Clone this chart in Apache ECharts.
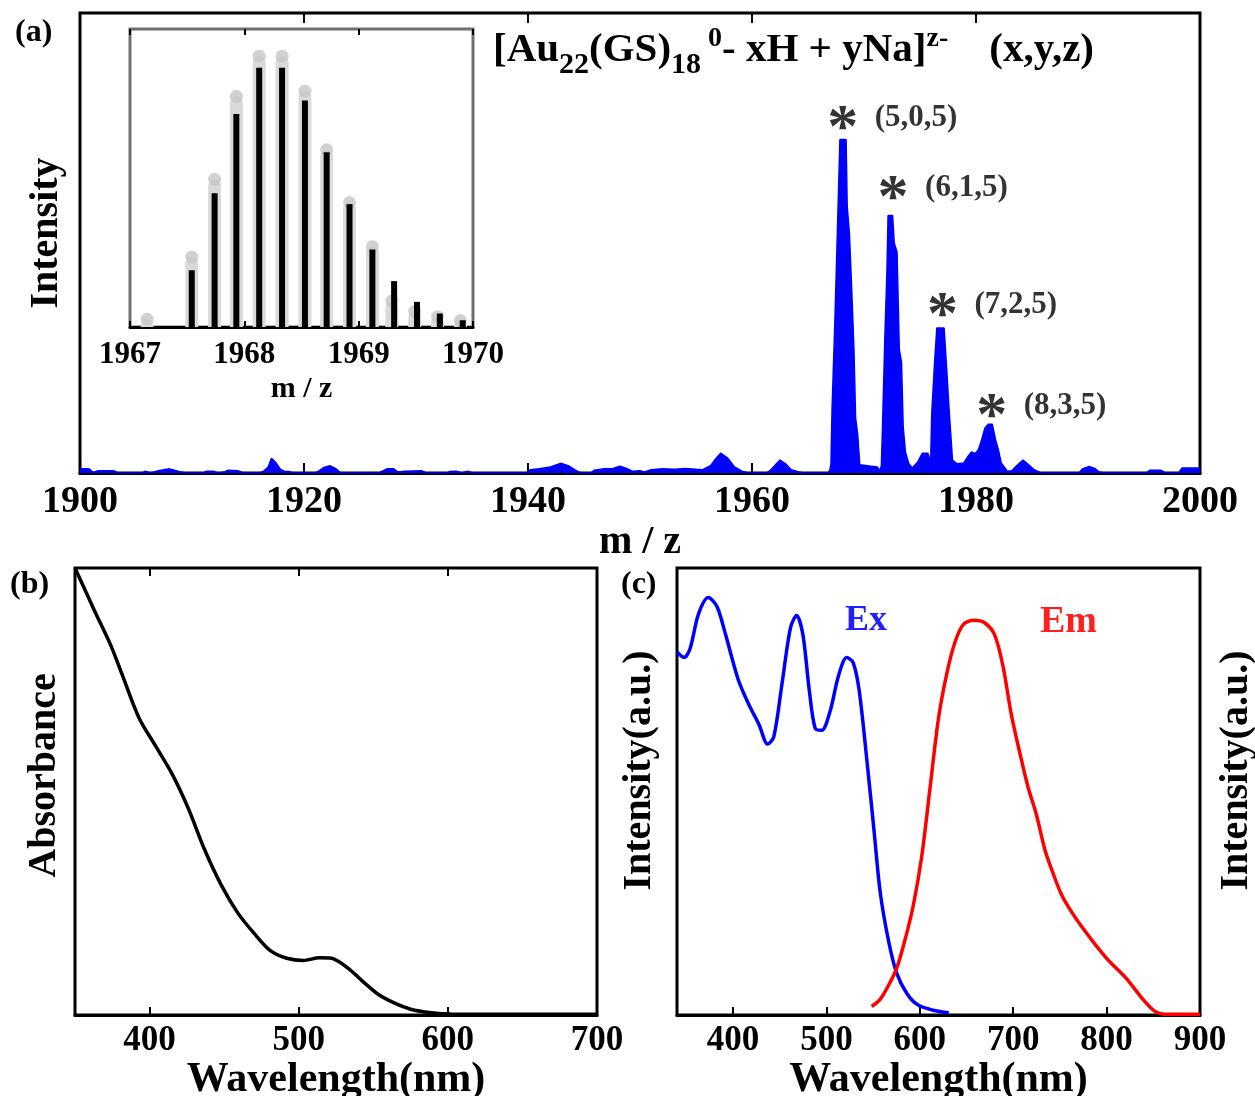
<!DOCTYPE html>
<html>
<head>
<meta charset="utf-8">
<title>Au22(GS)18 spectra</title>
<script src="https://cdn.jsdelivr.net/npm/echarts@6/dist/echarts.min.js"></script>
<style>
html, body { margin: 0; padding: 0; background: #fff; }
#chart { width: 1255px; height: 1096px; }
</style>
</head>
<body>
<div id="chart"></div>
<script>
var FONT = '"Liberation Serif", "Times New Roman", serif';

// (a) mass spectrum
var msMz = [1900.0, 1900.8, 1901.2, 1901.6, 1903.0, 1903.4, 1905.6, 1905.8, 1906.3, 1907.0, 1908.0, 1908.9, 1909.5,
    1911.0, 1911.3, 1911.9, 1912.3, 1912.9, 1913.2, 1914.1, 1914.6, 1916.1, 1916.4, 1916.8, 1917.1, 1917.5, 1917.9,
    1918.3, 1918.7, 1919.1, 1921.0, 1921.3, 1921.8, 1922.3, 1922.8, 1923.3, 1926.7, 1927.0, 1927.4, 1928.0, 1928.4,
    1929.0, 1930.5, 1930.9, 1932.8, 1933.0, 1933.6, 1934.1, 1934.6, 1935.1, 1939.9, 1940.2, 1941.0, 1942.0, 1942.9,
    1943.6, 1944.2, 1944.7, 1945.6, 1945.9, 1946.8, 1947.6, 1948.2, 1948.8, 1949.3, 1950.0, 1950.4, 1951.0, 1952.0,
    1953.1, 1954.0, 1955.0, 1955.6, 1956.3, 1956.8, 1957.2, 1957.8, 1958.4, 1959.1, 1959.7, 1961.3, 1961.6, 1962.0,
    1962.5, 1963.0, 1963.5, 1964.2, 1964.6, 1966.8, 1966.95, 1967.05, 1967.15, 1967.4, 1967.62, 1967.85, 1968.4,
    1968.5, 1968.7, 1968.9, 1969.1, 1969.25, 1969.45, 1969.62, 1970.5, 1971.2, 1971.4, 1971.55, 1971.65, 1971.85,
    1972.05, 1972.15, 1972.55, 1972.7, 1972.95, 1973.15, 1973.35, 1973.5, 1973.7, 1974.0, 1974.3, 1974.8, 1975.2,
    1975.7, 1975.95, 1976.05, 1976.3, 1976.5, 1977.15, 1977.35, 1977.6, 1977.9, 1978.3, 1978.9, 1979.2, 1979.6,
    1979.9, 1980.2, 1980.5, 1980.8, 1981.1, 1981.45, 1981.75, 1982.0, 1982.25, 1982.8, 1983.2, 1983.6, 1984.2,
    1984.7, 1985.2, 1985.8, 1989.2, 1989.5, 1990.1, 1990.6, 1991.0, 1991.4, 1995.2, 1995.5, 1996.5, 1996.9, 1998.1,
    1998.4, 1999.8, 2000.0];
var msInt = [0.9, 0.9, 0.1, 0.5, 0.5, 0, 0, 0.4, 0, 0.5, 0.9, 0.3, 0,
    0, 0.4, 0.4, 0, 0.2, 0.6, 0.5, 0, 0, 0.4, 1.3, 3.2, 2.2, 0.8,
    0.3, 0.3, 0, 0, 0.4, 1.2, 1.6, 1.0, 0, 0, 0.4, 0.9, 0.9, 0.2,
    0.4, 0.5, 0, 0, 0.3, 0.4, 0, 0.4, 0, 0, 0.7, 0.9, 1.3, 2.1,
    1.6, 0.7, 0, 0, 0.6, 0.9, 1.0, 1.5, 1.0, 0.4, 0.5, 0.2, 0.7, 0.9,
    0.8, 1.0, 0.8, 0.7, 1.6, 3.2, 4.3, 3.3, 1.4, 0.4, 0, 0, 0.5, 1.5,
    2.8, 2.0, 0.7, 0.2, 0, 0, 0.6, 2, 14, 33, 52, 72.5, 72.5,
    58, 52, 40, 27, 12, 8, 1.8, 1.5, 1.3, 0.5, 1.5, 9.8, 28.4,
    44, 56, 56, 50, 48, 27, 24, 10, 4.6, 2, 1.1, 2.4, 4.3,
    4.3, 2.5, 13, 23.9, 31.5, 31.5, 23.9, 13.7, 2.8, 2.0, 2.2, 3.3, 4.6,
    4.2, 5, 7.2, 9.8, 10.6, 10.6, 7.2, 5, 2.2, 0.4, 0.5, 1.5, 2.8,
    1.8, 0.7, 0, 0, 0.9, 1.4, 1.0, 0.2, 0, 0, 0.6, 0.6, 0, 0,
    1.1, 1.1, 1.0];
var peakMz = [1968.1, 1972.6, 1977.0, 1981.4];
var peakMarkY = [77.7, 62.3, 36.9, 15];
var peakTags = ['(5,0,5)', '(6,1,5)', '(7,2,5)', '(8,3,5)'];

// (a) inset: isotope pattern, measured (black) and simulated (grey)
var isoMz = [1967.54, 1967.74, 1967.93, 1968.13, 1968.33, 1968.53, 1968.72, 1968.92, 1969.12, 1969.31, 1969.51, 1969.71, 1969.91];
var isoExp = [21.9, 51.6, 82.2, 100, 100, 87.4, 67.4, 47.4, 29.9, 17.7, 9.7, 5.2, 2.6];
var simMz = [1967.15, 1967.54, 1967.74, 1967.93, 1968.13, 1968.33, 1968.53, 1968.72, 1968.92, 1969.12, 1969.29, 1969.49, 1969.69, 1969.89];
var simInt = [3, 27, 57, 89, 104.5, 104.5, 91, 68.4, 48, 31, 10, 6, 4, 2.5];

// (b) absorption
var absWl = [350, 363, 374, 382, 393, 404, 415, 426, 437, 448, 459, 470, 481, 492, 503, 514, 522, 533, 542, 553, 564, 575, 589, 602, 650, 700];
var absVal = [1.0, 0.905, 0.827, 0.758, 0.664, 0.602, 0.54, 0.462, 0.369, 0.291, 0.229, 0.183, 0.144, 0.127, 0.122, 0.128, 0.127,
    0.105, 0.078, 0.047, 0.027, 0.013, 0.005, 0.002, 0.0015, 0.0015];

// (c) excitation / emission
var exWl = [340, 347.6, 354, 363, 373.5, 383, 392, 405.6, 416.8, 428, 437, 443.6, 452.5, 461.5, 468, 474.8, 481.6, 488,
    495, 504, 512.8, 521.7, 528.5, 535, 544, 550.8, 557.5, 566.4, 575.3, 586.5, 597.7, 615.5, 631];
var exVal = [0.812, 0.8, 0.82, 0.897, 0.934, 0.913, 0.851, 0.75, 0.695, 0.649, 0.606, 0.622, 0.742, 0.866, 0.894, 0.851, 0.727, 0.641,
    0.637, 0.68, 0.758, 0.8, 0.789, 0.727, 0.556, 0.416, 0.276, 0.167, 0.093, 0.047, 0.023, 0.01, 0.005];
var emWl = [548.5, 557.5, 566.4, 575.3, 584, 593, 602, 611, 620, 629, 637.8, 646.7, 658, 669, 680, 689, 698, 707, 716, 725,
    734, 743, 752, 763, 776, 790, 803, 821, 839, 852, 865.5, 900];
var emVal = [0.019, 0.035, 0.066, 0.105, 0.167, 0.245, 0.354, 0.509, 0.664, 0.765, 0.835, 0.874, 0.883, 0.878, 0.851, 0.781, 0.672,
    0.587, 0.509, 0.447, 0.369, 0.315, 0.268, 0.229, 0.19, 0.152, 0.12, 0.082, 0.035, 0.008, 0.0015, 0.0015];

function zip(xs, ys) {
    return xs.map(function (x, i) { return [x, ys[i]]; });
}

function ts(size, extra) {
    var o = { fontFamily: FONT, fontWeight: 'bold', color: '#000', fontSize: size };
    for (var k in extra) o[k] = extra[k];
    return o;
}
// plain numbers, no thousands separator
var plain = function (v) { return String(v); };
var tickIn = function (len, w) {
    return { show: true, inside: true, length: len, lineStyle: { color: '#000', width: w } };
};
var hiddenY = function (grid, min, max) {
    return {
        type: 'value', gridIndex: grid, min: min, max: max,
        axisLine: { show: false }, axisTick: { show: false }, axisLabel: { show: false }, splitLine: { show: false }
    };
};
var onlyTicks = function (grid, min, max, interval, pos, len) {
    return {
        type: 'value', gridIndex: grid, position: pos, min: min, max: max, interval: interval,
        axisLine: { show: false }, axisTick: tickIn(len, 2), axisLabel: { show: false }, splitLine: { show: false }
    };
};

var myChart = echarts.init(document.getElementById('chart'), null, { renderer: 'canvas' });

var option = {
    backgroundColor: '#fff',
    animation: false,
    grid: [
        { left: 80, top: 13, width: 1120, height: 460, show: true, borderColor: '#000', borderWidth: 3, backgroundColor: 'transparent', outerBoundsMode: 'none' },
        { left: 130, top: 29, width: 343, height: 298, show: true, borderColor: '#707070', borderWidth: 3, backgroundColor: '#fff', outerBoundsMode: 'none' },
        { left: 75, top: 568, width: 522, height: 447, show: true, borderColor: '#000', borderWidth: 3, backgroundColor: 'transparent', outerBoundsMode: 'none' },
        { left: 677, top: 568, width: 523, height: 447, show: true, borderColor: '#000', borderWidth: 3, backgroundColor: 'transparent', outerBoundsMode: 'none' }
    ],
    xAxis: [
        {
            type: 'value', gridIndex: 0, min: 1900, max: 2000, interval: 20,
            name: 'm / z', nameLocation: 'middle', nameGap: 50, nameTextStyle: ts(40),
            axisLine: { show: true, lineStyle: { color: '#000', width: 3 } },
            axisTick: tickIn(10, 2),
            axisLabel: ts(38, { margin: 10, formatter: plain }),
            splitLine: { show: false }
        },
        onlyTicks(0, 1900, 2000, 20, 'top', 10),
        {
            type: 'value', gridIndex: 1, min: 1967, max: 1970, interval: 1,
            name: 'm / z', nameLocation: 'middle', nameGap: 47, nameTextStyle: ts(30),
            axisLine: { show: true, lineStyle: { color: '#000', width: 3 } },
            axisTick: tickIn(6, 2),
            axisLabel: ts(31, { margin: 12, formatter: plain }),
            splitLine: { show: false }
        },
        onlyTicks(1, 1967, 1970, 1, 'top', 6),
        { type: 'value', gridIndex: 1, min: 1967, max: 1970, show: false },
        {
            type: 'value', gridIndex: 2, min: 350, max: 700, minInterval: 100, maxInterval: 100,
            name: 'Wavelength(nm)', nameLocation: 'middle', nameGap: 40, nameTextStyle: ts(42),
            axisLine: { show: true, lineStyle: { color: '#000', width: 3 } },
            axisTick: tickIn(8, 2),
            axisLabel: ts(35, { margin: 8, showMinLabel: false, formatter: plain }),
            splitLine: { show: false }
        },
        {
            type: 'value', gridIndex: 2, position: 'top', min: 350, max: 700, minInterval: 100, maxInterval: 100,
            axisLine: { show: false }, axisTick: tickIn(8, 2), axisLabel: { show: false }, splitLine: { show: false }
        },
        {
            type: 'value', gridIndex: 3, min: 340, max: 900, minInterval: 100, maxInterval: 100,
            name: 'Wavelength(nm)', nameLocation: 'middle', nameGap: 40, nameTextStyle: ts(42),
            axisLine: { show: true, lineStyle: { color: '#000', width: 3 } },
            axisTick: tickIn(8, 2),
            axisLabel: ts(35, { margin: 8, showMinLabel: false, formatter: plain }),
            splitLine: { show: false }
        }
    ],
    yAxis: [
        (function () {
            var a = hiddenY(0, 0, 100);
            a.name = 'Intensity'; a.nameLocation = 'middle'; a.nameGap = 13; a.nameTextStyle = ts(40, { padding: [0, 0, 0, 20] });
            return a;
        })(),
        hiddenY(1, 0, 115),
        (function () {
            var a = hiddenY(2, 0, 1);
            a.name = 'Absorbance'; a.nameLocation = 'middle'; a.nameGap = 10; a.nameTextStyle = ts(40, { padding: [0, 0, 0, 32] });
            return a;
        })(),
        (function () {
            var a = hiddenY(3, 0, 1);
            a.name = 'Intensity(a.u.)'; a.nameLocation = 'middle'; a.nameGap = 17; a.nameTextStyle = ts(40, { padding: [0, 0, 0, 42] });
            return a;
        })(),
        (function () {
            var a = hiddenY(3, 0, 1);
            a.position = 'right'; a.nameRotate = 90;
            a.name = 'Intensity(a.u.)'; a.nameLocation = 'middle'; a.nameGap = 17; a.nameTextStyle = ts(40, { padding: [0, 0, 0, 42] });
            return a;
        })()
    ],
    series: [
        {
            type: 'line', xAxisIndex: 0, yAxisIndex: 0,
            data: zip(msMz, msInt), showSymbol: false, symbol: 'none',
            lineStyle: { color: '#0000ff', width: 1.5 },
            areaStyle: { color: '#0000ff', opacity: 1 },
            z: 2
        },
        {
            type: 'scatter', xAxisIndex: 0, yAxisIndex: 0, symbolSize: 0, silent: true,
            data: zip(peakMz, peakMarkY),
            label: { show: true, position: 'inside', formatter: '*', fontFamily: FONT, fontWeight: 'bold', fontSize: 62, color: '#000', offset: [0, 14] }
        },
        {
            type: 'scatter', xAxisIndex: 0, yAxisIndex: 0, symbolSize: 0, silent: true,
            data: peakMz.map(function (m, i) { return { value: [m, peakMarkY[i]], name: peakTags[i] }; }),
            label: { show: true, position: 'right', distance: 0, offset: [32, 2], formatter: '{b}', fontFamily: FONT, fontWeight: 'bold', fontSize: 31, color: '#000' }
        },
        {
            type: 'bar', xAxisIndex: 4, yAxisIndex: 1, barWidth: 13,
            data: zip(simMz, simInt),
            itemStyle: { color: '#dadada', borderRadius: [7, 7, 0, 0] },
            z: 3
        },
        {
            type: 'scatter', xAxisIndex: 4, yAxisIndex: 1, symbolSize: 13,
            data: zip(simMz, simInt),
            itemStyle: { color: '#c6c6c6' },
            z: 4
        },
        {
            type: 'bar', xAxisIndex: 2, yAxisIndex: 1, barWidth: 6,
            data: zip(isoMz, isoExp),
            itemStyle: { color: '#000' },
            z: 5
        },
        {
            type: 'line', xAxisIndex: 5, yAxisIndex: 2,
            data: zip(absWl, absVal), showSymbol: false, symbol: 'none', smooth: 0.3,
            lineStyle: { color: '#000', width: 3.5 }
        },
        {
            type: 'line', xAxisIndex: 7, yAxisIndex: 3,
            data: zip(exWl, exVal), showSymbol: false, symbol: 'none', smooth: 0.3,
            lineStyle: { color: '#0000ff', width: 3.5 }
        },
        {
            type: 'line', xAxisIndex: 7, yAxisIndex: 3,
            data: zip(emWl, emVal), showSymbol: false, symbol: 'none', smooth: 0.3,
            lineStyle: { color: '#ff0000', width: 3.5 }
        }
    ],
    graphic: [
        { type: 'text', left: 15, top: 17, style: { text: '(a)', font: 'bold 32px ' + FONT, fill: '#000' } },
        { type: 'text', left: 10, top: 569, style: { text: '(b)', font: 'bold 32px ' + FONT, fill: '#000' } },
        { type: 'text', left: 621, top: 569, style: { text: '(c)', font: 'bold 32px ' + FONT, fill: '#000' } },
        { type: 'text', left: 845, top: 603, style: { text: 'Ex', font: 'bold 36px ' + FONT, fill: '#1f1fff' } },
        { type: 'text', left: 1040, top: 603, style: { text: 'Em', font: 'bold 38px ' + FONT, fill: '#ff1f1f' } },
        {
            type: 'text', left: 493, top: 20,
            style: {
                text: '{n|[Au}{sub|22}{n|(GS)}{sub|18}{sup| 0}{n|- xH + yNa]}{sup|z-}{n|    (x,y,z)}',
                rich: {
                    n: { fontFamily: FONT, fontWeight: 'bold', fontSize: 41, lineHeight: 64, verticalAlign: 'middle', fill: '#000' },
                    sub: { fontFamily: FONT, fontWeight: 'bold', fontSize: 30, lineHeight: 30, padding: [30, 0, 0, 0], verticalAlign: 'middle', fill: '#000' },
                    sup: { fontFamily: FONT, fontWeight: 'bold', fontSize: 28, lineHeight: 28, padding: [0, 0, 22, 0], verticalAlign: 'middle', fill: '#000' }
                }
            }
        }
    ]
};
myChart.setOption(option);
</script>
</body>
</html>
